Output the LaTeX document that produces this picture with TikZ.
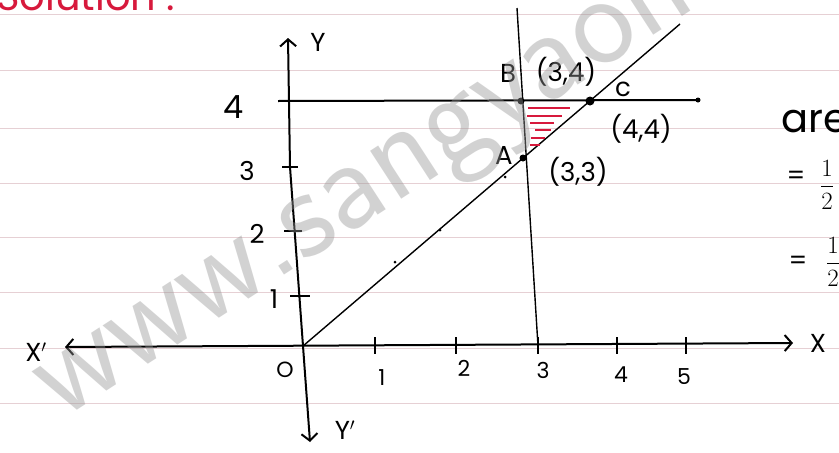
\documentclass[tikz,border=0pt]{standalone}
\usepackage{fontspec}
\setmainfont{Poppins}
\usetikzlibrary{arrows.meta}
\definecolor{paper}{RGB}{230,208,212}
\definecolor{hatch}{RGB}{215,25,60}
\definecolor{wm}{RGB}{150,150,150}
\begin{document}
\begin{tikzpicture}[x=1pt,y=-1pt,
  ink/.style={line width=2pt,black},
  thinink/.style={line width=1.4pt,black},
  barbs/.style={{Straight Barb[length=7pt,width=16pt,line width=2pt]}-{Straight Barb[length=7pt,width=16pt,line width=2pt]}},
  paperline/.style={line width=0.8pt,paper},
  hatchline/.style={line width=2pt,hatch},
  lbl/.style={font=\fontsize{26}{26}\selectfont,inner sep=0pt},
  small/.style={font=\fontsize{22}{22}\selectfont,inner sep=0pt},
  big/.style={font=\fontsize{32}{32}\selectfont,inner sep=0pt},
  pt/.style={circle,fill=black,inner sep=0pt,minimum size=7pt},
  tinypt/.style={circle,fill=black,inner sep=0pt,minimum size=3pt},
  watermark/.style={font=\fontsize{132}{132}\selectfont\sffamily,text=wm,opacity=0.42,inner sep=0pt}
]
\useasboundingbox (0,0) rectangle (839,453);
\clip (0,0) rectangle (839,453);
\fill[white] (0,0) rectangle (839,453);
% ruled paper
\foreach \yy in {14,70,128,183,237,292,348,403}
  \draw[paperline] (0,\yy) -- (839,\yy);
% heading (cropped)
\node[anchor=base west,text=hatch,font=\fontsize{40}{40}\selectfont,inner sep=0pt] (sol) at (-4,10) {Solution :};
% axes
\coordinate (xL) at (65,347);
\coordinate (xR) at (793,343);
\coordinate (yT) at (288,38);
\coordinate (y3) at (290,167);
\coordinate (O) at (303,346);
\coordinate (yB) at (310,442);
\draw[ink,barbs] (xL) -- (xR);
\draw[ink,barbs] (yT) -- (y3) -- (O) -- (yB);
\node[lbl] (Xl) at (818,343) {X};
\node[lbl] (Xpl) at (36,352) {X$'$};
\node[lbl] (Yl) at (318,42) {Y};
\node[lbl] (Ypl) at (345,430) {Y$'$};
\node[small] (Ol) at (285,370) {O};
% x ticks
\foreach \xx/\lx/\ly/\t in {375/382/378/1,456/464/368/2,538/543/370/3,617/621/375/4,686/684/377/5}{
  \draw[ink] (\xx,337) -- (\xx,354);
  \node[small] at (\lx,\ly) {\t};
}
% y ticks
\foreach \ya/\yb/\yy in {280/299/101,282/298/167,284/302/231,290/310/296}
  \draw[ink] (\ya,\yy) -- (\yb,\yy);
\node[big] (l4) at (234,107) {4};
\node[lbl] (l3) at (247,171) {3};
\node[lbl] (l2) at (257,234) {2};
\node[lbl] (l1) at (274,299) {1};
% line y = x
\coordinate (Lend) at (680,24);
\draw[thinink] (O) -- (Lend);
% line y = 4
\coordinate (H1) at (278,101);
\coordinate (H2) at (698,100);
\draw[ink] (H1) -- (H2);
\node[tinypt,minimum size=5pt] (H2d) at (H2) {};
% line x = 3
\coordinate (V1) at (517,8);
\coordinate (V2) at (538,346);
\draw[thinink] (V1) -- (V2);
% hatching
\draw[hatchline] (528,108) -- (570,108);
\draw[hatchline] (527,116) -- (562,116);
\draw[hatchline] (530,123) -- (554,123);
\draw[hatchline] (535,130) -- (551,130);
\draw[hatchline] (531,138) -- (545,138);
\draw[hatchline] (530,145) -- (540,145);
% points
\node[pt] (B) at (521,101) {};
\node[pt,minimum size=9pt] (C) at (590,101) {};
\node[pt] (A) at (523,158) {};
\node[tinypt] (d1) at (440,230) {};
\node[tinypt] (d2) at (505,177) {};
\node[tinypt] (d3) at (395,262) {};
% point labels
\node[lbl] (Bl) at (508,73) {B};
\node[lbl] (B2) at (566,72) {(3,4)};
\node[lbl] (Cl) at (623,89) {c};
\node[lbl] (C2) at (641,129) {(4,4)};
\node[lbl] (Al) at (504,155) {A};
\node[lbl] (A2) at (578,172) {(3,3)};
% right margin working (cropped)
\node[anchor=base west,font=\fontsize{40}{40}\selectfont,inner sep=0pt] (area) at (781,132) {area};
\node[lbl] (eq1) at (796,178) {=};
\node[anchor=west,font=\fontsize{34}{34}\selectfont,inner sep=0pt] (f1) at (820,185) {$\displaystyle\frac{1}{2}$};
\node[lbl] (eq2) at (798,263) {=};
\node[anchor=west,font=\fontsize{34}{34}\selectfont,inner sep=0pt] (f2) at (826,262) {$\displaystyle\frac{1}{2}$};
% watermark
\node[watermark,rotate=33] (wmk) at (372,200) {www.sangyaon};
\end{tikzpicture}
\end{document}
